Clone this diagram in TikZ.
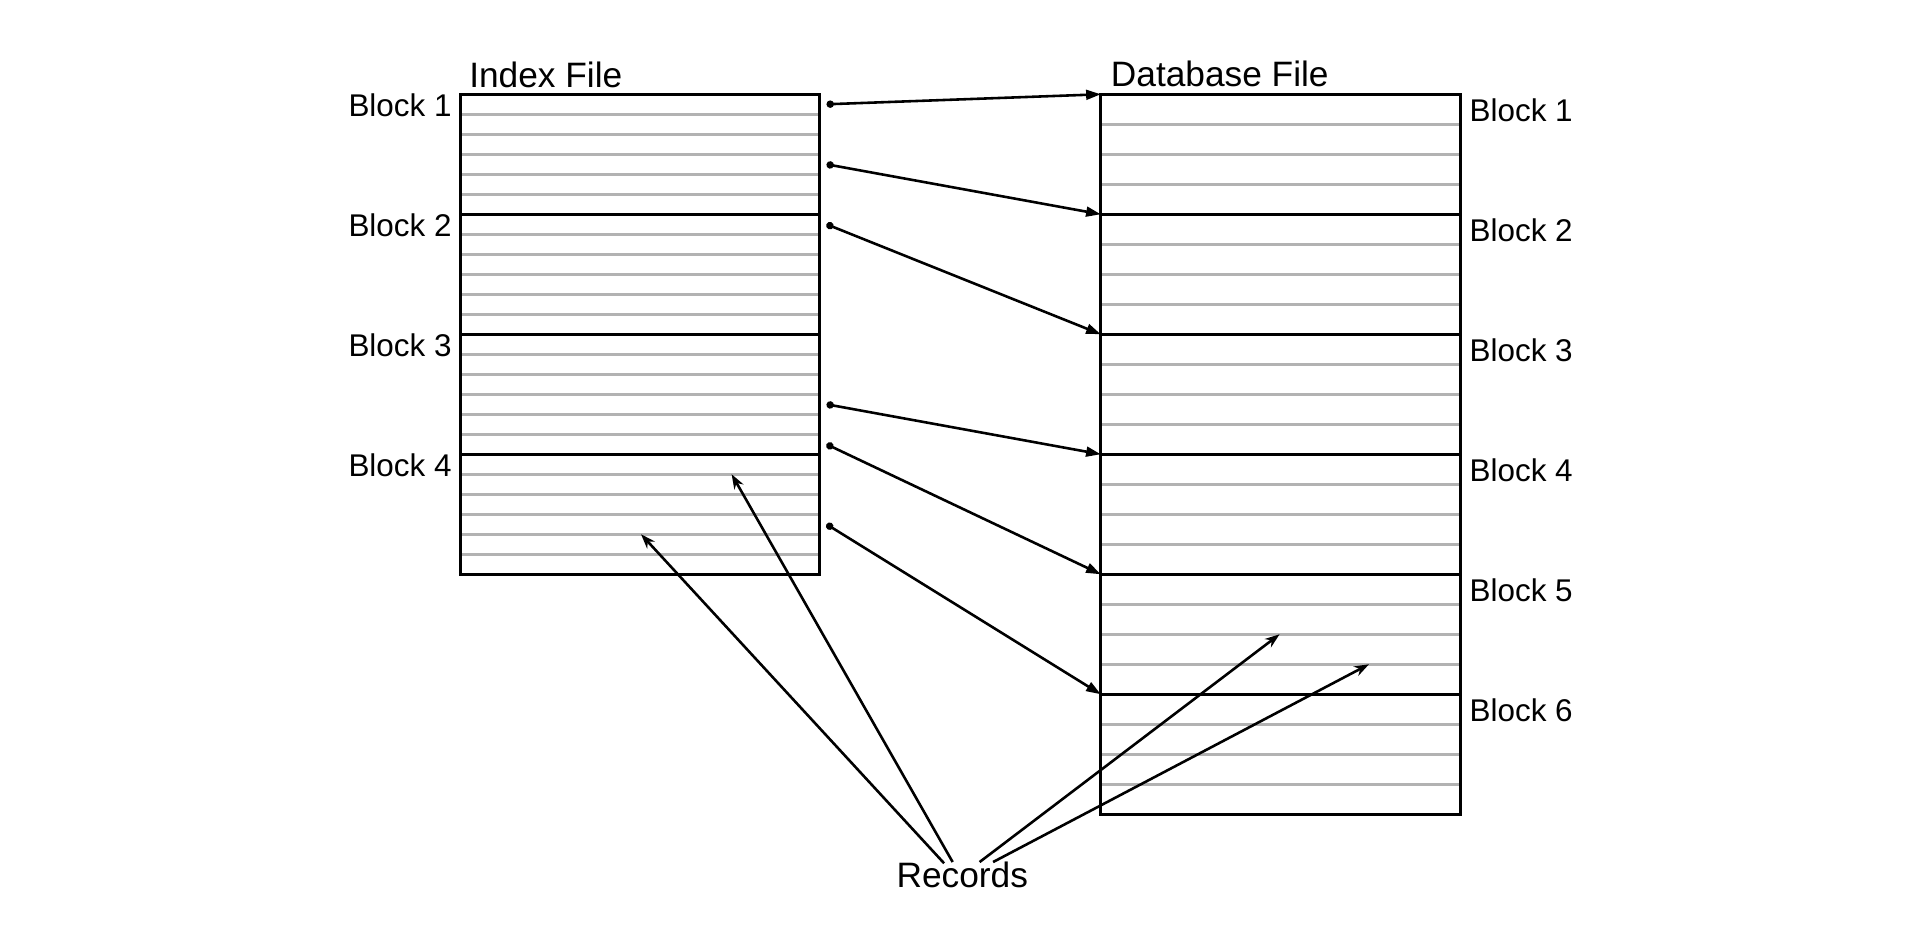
\documentclass[tikz,border=0pt]{standalone}
\usepackage{fontspec}
\setmainfont{Liberation Sans}
\usetikzlibrary{arrows.meta}
\begin{document}
\begin{tikzpicture}[x=0.1mm,y=-0.1mm,line width=0.7pt,
  rec/.style={draw=black!30,line width=0.7pt},
  ptr/.style={{Circle[length=0.6mm]}-{Triangle[length=1.2mm,width=0.8mm]}},
  lbl/.style={font=\fontsize{7.3}{8}\selectfont,inner sep=0pt},
  ttl/.style={font=\fontsize{8.2}{9}\selectfont,inner sep=0pt}]
\useasboundingbox (0,0) rectangle (1568,773);
% index file, 4 blocks of 6 records
\foreach \i in {1,...,23} \draw[rec] (376,{77+\i*16.333}) -- (669,{77+\i*16.333});
\foreach \b in {1,2,3} \draw (376,{77+\b*98}) -- (669,{77+\b*98});
\draw (376,77) rectangle (669,469);
\foreach \b in {1,...,4} \node[lbl,anchor=base east] (ib\b) at (370,{77+(\b-1)*98+18.5}) {Block \b};
\node[ttl,anchor=base west] (idx) at (382,71.5) {Index File};
% database file, 6 blocks of 4 records
\foreach \i in {1,...,23} \draw[rec] (899,{77+\i*24.5}) -- (1193,{77+\i*24.5});
\foreach \b in {1,...,5} \draw (899,{77+\b*98}) -- (1193,{77+\b*98});
\draw (899,77) rectangle (1193,665);
\foreach \b in {1,...,6} \node[lbl,anchor=base west] (db\b) at (1199,{77+(\b-1)*98+22.5}) {Block \b};
\node[ttl,anchor=base west] (dbf) at (906,71) {Database File};
% pointers from index entries to blocks
\foreach \r/\k in {0/0,3/1,6/2,15/3,17/4,21/5} {
  \coordinate (p\k) at (675,{77+16.333*(\r+0.5)});
  \coordinate (b\k) at (899,{77+98*\k});
  \draw[ptr,line width=0.6pt] (p\k) -- (b\k);
}
% records
\node[ttl,anchor=base west] (recs) at (731,724.5) {Records};
\coordinate (r1) at (771,705);
\coordinate (r2) at (778,704);
\coordinate (r3) at (800,704);
\coordinate (r4) at (811,704);
\coordinate (t1) at (523.5,436.3);
\coordinate (t2) at (597.5,387.3);
\coordinate (t3) at (1045,518);
\coordinate (t4) at (1118,542.5);
\foreach \a in {1,...,4} \draw[line width=0.6pt,-{Stealth[length=1.2mm,width=0.85mm]}] (r\a) -- (t\a);
\end{tikzpicture}
\end{document}
